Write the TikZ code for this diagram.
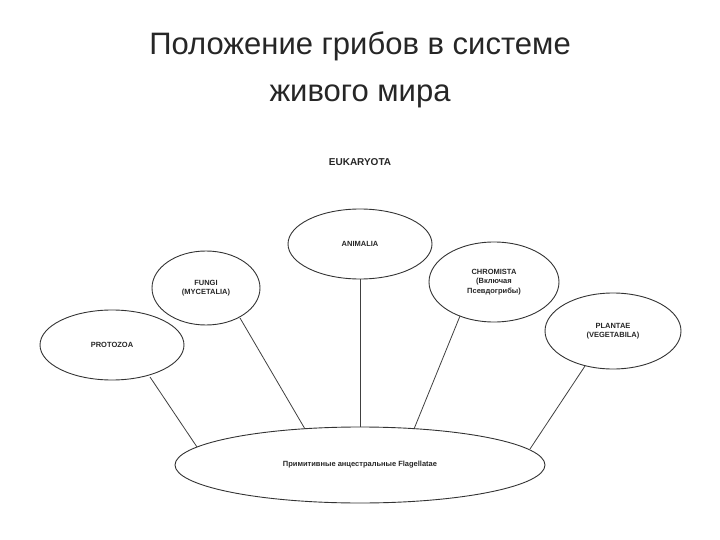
\documentclass[tikz,border=0pt]{standalone}
\usepackage{fontspec}
\setmainfont{Liberation Sans}
\usetikzlibrary{shapes.geometric}
\begin{document}
\begin{tikzpicture}[x=1pt,y=-1pt,
  ell/.style={ellipse,draw=black!80,line width=0.9pt,align=center,inner sep=0pt,font=\fontsize{7.5}{9.5}\selectfont\bfseries,text=black!85},
  con/.style={draw=black!75,line width=0.8pt},
  ttl/.style={font=\fontsize{31}{36}\selectfont,text=black!85}]
\useasboundingbox (0,0) rectangle (720,540);
\node[ttl] (t1) at (360,46) {Положение грибов в системе};
\node[ttl] (t2) at (360,96) {живого мира};
\node[font=\fontsize{10}{11}\selectfont\bfseries,text=black!85] (euk) at (360,162) {EUKARYOTA};
\node[ell,minimum width=144pt,minimum height=70pt] (proto) at (112,345) {PROTOZOA};
\node[ell,minimum width=108pt,minimum height=74pt] (fungi) at (206,288) {FUNGI\\(MYCETALIA)};
\node[ell,minimum width=144pt,minimum height=70pt] (anim) at (360,244) {ANIMALIA};
\node[ell,minimum width=130pt,minimum height=80pt] (chrom) at (494,282) {CHROMISTA\\(Включая\\Псевдогрибы)};
\node[ell,minimum width=136pt,minimum height=76pt] (plant) at (613,331) {PLANTAE\\(VEGETABILA)};
\node[ell,minimum width=370pt,minimum height=76pt] (base) at (360,465) {Примитивные анцестральные Flagellatae};
\coordinate (p1) at (150,377); \coordinate (p2) at (197,447);
\coordinate (f1) at (240,318); \coordinate (f2) at (305,429);
\coordinate (c1) at (460,316); \coordinate (c2) at (414,429);
\coordinate (l1) at (585,366); \coordinate (l2) at (530,449);
\draw[con] (p1) -- (p2);
\draw[con] (f1) -- (f2);
\draw[con] (anim.south) -- (base.north);
\draw[con] (c1) -- (c2);
\draw[con] (l1) -- (l2);
\end{tikzpicture}
\end{document}
